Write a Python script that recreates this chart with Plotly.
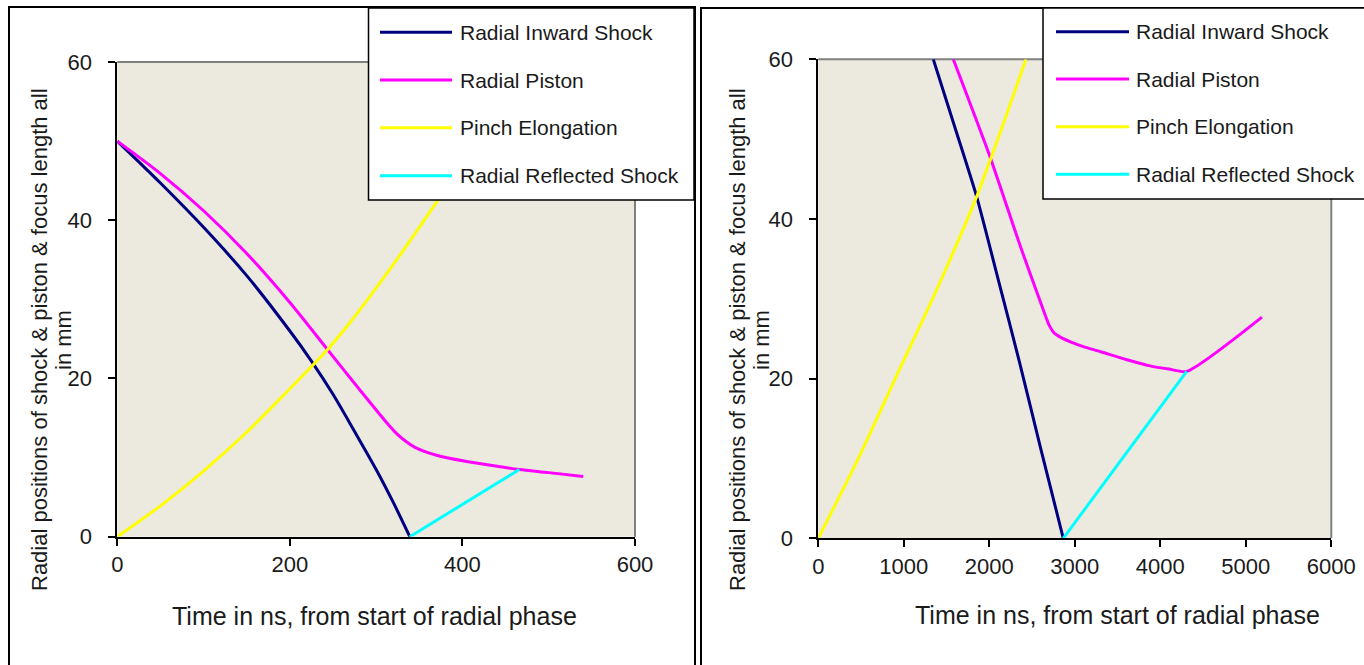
import plotly.graph_objects as go

# ---------------- data ----------------
# Left panel (time in ns)
t_shock_L = [0, 50, 100, 150, 200, 225, 250, 275, 300, 320, 339]
r_shock_L = [50, 44.7, 39.1, 33.0, 26.0, 22.2, 18.0, 13.3, 8.5, 4.3, 0]

t_piston_L = [0, 50, 100, 150, 200, 244, 280, 310, 325, 335, 345, 370, 405, 440, 466, 500, 540]
r_piston_L = [50, 45.9, 41.2, 35.8, 29.6, 23.6, 18.7, 14.7, 12.9, 12.0, 11.3, 10.3, 9.5, 8.9, 8.5, 8.1, 7.6]

t_pinch_L = [0, 50, 100, 150, 200, 225, 244, 270, 293, 327, 372, 420, 464]
r_pinch_L = [0, 3.9, 8.3, 13.2, 18.7, 21.5, 23.7, 27.1, 30.4, 35.5, 42.6, 50.4, 57.5]

t_refl_L = [339, 466]
r_refl_L = [0, 8.5]

# Right panel (time in ns)
t_shock_R = [1345, 1600, 1852, 2100, 2350, 2600, 2865]
r_shock_R = [60, 51.4, 42.8, 32.6, 22.2, 11.3, 0]

t_piston_R = [1579, 2008, 2379, 2632, 2700, 2760, 2830, 2950, 3100, 3295, 3600, 3880, 4100, 4309, 5189]
r_piston_R = [60, 47.8, 36.1, 28.6, 26.7, 25.7, 25.2, 24.6, 24.0, 23.4, 22.4, 21.6, 21.2, 20.9, 27.7]

t_pinch_R = [0, 450, 900, 1400, 1852, 2008, 2200, 2429]
r_pinch_R = [0, 9.6, 20.0, 31.5, 42.8, 47.3, 53.0, 60]

t_refl_R = [2865, 4309]
r_refl_R = [0, 20.9]

series_names = ["Radial Inward Shock", "Radial Piston", "Pinch Elongation", "Radial Reflected Shock"]
series_colors = ["#000080", "#FF00FF", "#FFFF00", "#00FFFF"]

x_ticks_L = [0, 200, 400, 600]
x_ticks_R = [0, 1000, 2000, 3000, 4000, 5000, 6000]
y_ticks = [0, 20, 40, 60]

x_title = "Time in ns, from start of radial phase"
y_title_1 = "Radial positions of shock & piston & focus length all"
y_title_2 = "in mm"

# ---------------- figure ----------------
W, H = 1364, 665
FONT = "Liberation Sans, Arial, sans-serif"


def X(px):
    return px / W


def Y(py):
    return 1 - py / H


fig = go.Figure()

left = [(t_shock_L, r_shock_L), (t_piston_L, r_piston_L), (t_pinch_L, r_pinch_L), (t_refl_L, r_refl_L)]
right = [(t_shock_R, r_shock_R), (t_piston_R, r_piston_R), (t_pinch_R, r_pinch_R), (t_refl_R, r_refl_R)]

for (tx, ry), name, col in zip(left, series_names, series_colors):
    fig.add_trace(go.Scatter(x=tx, y=ry, mode="lines", name=name, showlegend=False,
                             line=dict(color=col, width=3, shape="spline", smoothing=0.8),
                             xaxis="x", yaxis="y"))
for (tx, ry), name, col in zip(right, series_names, series_colors):
    fig.add_trace(go.Scatter(x=tx, y=ry, mode="lines", name=name, showlegend=False,
                             line=dict(color=col, width=3, shape="spline", smoothing=0.6),
                             xaxis="x2", yaxis="y2"))

axis_common = dict(showgrid=False, zeroline=False, showline=True, linecolor="black", linewidth=2,
                   ticks="outside", ticklen=7, tickwidth=1.5, tickcolor="black", automargin=False,
                   tickfont=dict(family=FONT, size=22, color="#1a1a1a"), fixedrange=True)

fig.update_layout(
    width=W, height=H,
    autosize=False,
    margin=dict(l=0, r=0, t=0, b=0, pad=0, autoexpand=False),
    paper_bgcolor="white",
    plot_bgcolor="#ECE9DF",
    showlegend=False,
    xaxis=dict(domain=[X(117.3), X(635)], range=[0, 600], tickvals=x_ticks_L, anchor="y", **axis_common),
    yaxis=dict(domain=[Y(536.7), Y(62)], range=[0, 60], tickvals=y_ticks, anchor="x",
               ticklabelstandoff=12, **axis_common),
    xaxis2=dict(domain=[X(818.3), X(1331.3)], range=[0, 6000], tickvals=x_ticks_R, anchor="y2", **axis_common),
    yaxis2=dict(domain=[Y(538.3), Y(59.3)], range=[0, 60], tickvals=y_ticks, anchor="x2",
                ticklabelstandoff=12, **axis_common),
)

shapes = []
# grey plot-area borders (top and right)
for xr, yr in (("x domain", "y domain"), ("x2 domain", "y2 domain")):
    shapes.append(dict(type="line", xref=xr, yref=yr, x0=0, x1=1, y0=1, y1=1,
                       line=dict(color="#808080", width=2), layer="below"))
    shapes.append(dict(type="line", xref=xr, yref=yr, x0=1, x1=1, y0=0, y1=1,
                       line=dict(color="#808080", width=2), layer="below"))

# outer panel frames
shapes.append(dict(type="rect", xref="paper", yref="paper", x0=X(9), x1=X(695), y0=Y(700), y1=Y(7),
                   line=dict(color="black", width=2), fillcolor="rgba(0,0,0,0)", layer="above"))
shapes.append(dict(type="rect", xref="paper", yref="paper", x0=X(701), x1=X(1380), y0=Y(700), y1=Y(8),
                   line=dict(color="black", width=2), fillcolor="rgba(0,0,0,0)", layer="above"))

annotations = []

# legends (drawn as boxes over the plot area)
legend_specs = [
    dict(x0=368.5, x1=694, y0=8, y1=200, lx0=380, lx1=452, tx=458, rows=[32.3, 80, 127.7, 175.7]),
    dict(x0=1043, x1=1380, y0=8, y1=199, lx0=1056, lx1=1129, tx=1134, rows=[31.7, 79, 126.7, 174.3]),
]
for spec in legend_specs:
    shapes.append(dict(type="rect", xref="paper", yref="paper",
                       x0=X(spec["x0"]), x1=X(spec["x1"]), y0=Y(spec["y1"]), y1=Y(spec["y0"]),
                       line=dict(color="black", width=1.5), fillcolor="white", layer="above"))
    for name, col, ry in zip(series_names, series_colors, spec["rows"]):
        shapes.append(dict(type="line", xref="paper", yref="paper",
                           x0=X(spec["lx0"]), x1=X(spec["lx1"]), y0=Y(ry), y1=Y(ry),
                           line=dict(color=col, width=3), layer="above"))
        annotations.append(dict(xref="paper", yref="paper", x=X(spec["tx"]), y=Y(ry),
                                xanchor="left", yanchor="middle", showarrow=False, text=name,
                                font=dict(family=FONT, size=21, color="#1a1a1a")))

# axis titles
for cx, cy in ((375, 616), (1117, 615)):
    annotations.append(dict(xref="paper", yref="paper", x=X(cx), y=Y(cy), xanchor="center", yanchor="middle",
                            showarrow=False, text=x_title, font=dict(family=FONT, size=25, color="#1a1a1a")))
for cx1, cx2 in ((39, 63), (737, 761)):
    annotations.append(dict(xref="paper", yref="paper", x=X(cx1), y=Y(340), xanchor="center", yanchor="middle",
                            showarrow=False, text=y_title_1, textangle=-90,
                            font=dict(family=FONT, size=22, color="#1a1a1a")))
    annotations.append(dict(xref="paper", yref="paper", x=X(cx2), y=Y(340), xanchor="center", yanchor="middle",
                            showarrow=False, text=y_title_2, textangle=-90,
                            font=dict(family=FONT, size=22, color="#1a1a1a")))

fig.update_layout(shapes=shapes, annotations=annotations)

fig.write_html("out.html", config={"responsive": False})
